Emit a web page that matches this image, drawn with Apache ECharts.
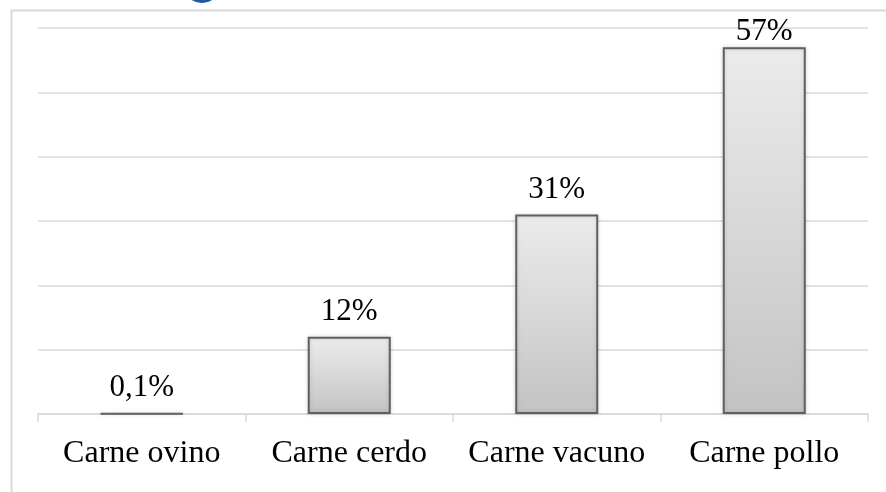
<!DOCTYPE html>
<html style="height: 100%">
<head>
<meta charset="utf-8">
</head>
<body style="height: 100%; margin: 0; background: #fff">
<div id="container" style="width: 886px; height: 492px"></div>
<script src="https://cdn.jsdelivr.net/npm/echarts@6/dist/echarts.min.js"></script>
<script>
// datos del grafico
var categorias = ['Carne ovino', 'Carne cerdo', 'Carne vacuno', 'Carne pollo'];
var valores = [0.1, 12, 31, 57];

var myChart = echarts.init(document.getElementById('container'));

// la etiqueta de la barra mas alta va pegada a la barra (no cabe arriba)
var datosSerie = valores.map(function (v, i) {
    var item = { value: v };
    if (i === valores.length - 1) item.label = { distance: 0 };
    return item;
});

var option = {
    animation: false,
    backgroundColor: '#fff',
    graphic: [
        {   // marco exterior
            type: 'rect',
            left: 9, top: 8,
            shape: { width: 900, height: 500 },
            style: { fill: 'none', stroke: '#d9d9d9', lineWidth: 2 }
        },
        {   // logo cortado arriba
            type: 'circle',
            shape: { cx: 202, cy: -16, r: 19 },
            style: { fill: '#1d5a9e' }
        }
    ],
    grid: { left: 38, right: 18, top: 28, bottom: 78 },
    xAxis: {
        type: 'category',
        data: categorias,
        axisLine: { lineStyle: { color: '#d9d9d9', width: 1.5 } },
        axisTick: { show: true, interval: 0, length: 8, lineStyle: { color: '#d9d9d9', width: 1.5 } },
        axisLabel: {
            interval: 0,
            hideOverlap: false,
            color: '#000',
            fontFamily: 'Liberation Serif',
            fontSize: 32,
            margin: 24
        }
    },
    yAxis: {
        type: 'value',
        min: 0,
        max: 60,
        interval: 10,
        axisLabel: { show: false },
        axisLine: { show: false },
        axisTick: { show: false },
        splitLine: { lineStyle: { color: '#d9d9d9', width: 1.5 } }
    },
    series: [{
        type: 'bar',
        data: datosSerie,
        barWidth: '40%',
        itemStyle: {
            color: new echarts.graphic.LinearGradient(0, 0, 0, 1, [
                { offset: 0, color: '#ececec' },
                { offset: 1, color: '#c3c3c3' }
            ]),
            borderColor: '#5f5f5f',
            borderWidth: 2,
            shadowColor: 'rgba(0,0,0,0.15)',
            shadowBlur: 4
        },
        label: {
            show: true,
            position: 'top',
            distance: 9,
            color: '#000',
            fontFamily: 'Liberation Serif',
            fontSize: 31,
            formatter: function (p) {
                return String(p.value).replace('.', ',') + '%';
            }
        }
    }]
};

myChart.setOption(option);
</script>
</body>
</html>
